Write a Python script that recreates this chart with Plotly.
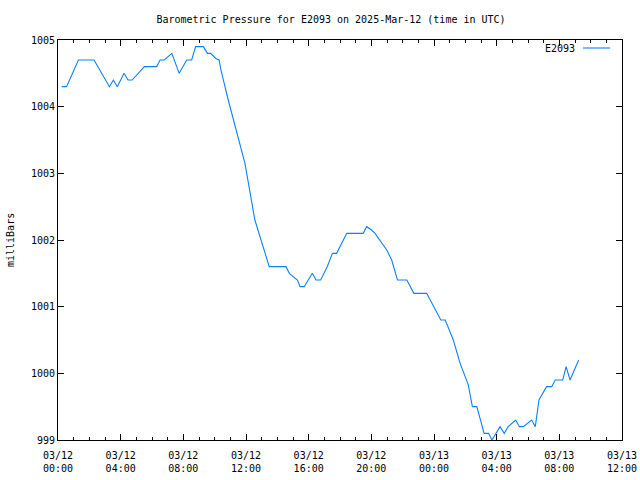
import plotly.graph_objects as go

times = [
    "2025-03-12 00:14", "2025-03-12 00:33", "2025-03-12 01:18", "2025-03-12 02:18",
    "2025-03-12 03:17", "2025-03-12 03:32", "2025-03-12 03:47", "2025-03-12 04:13",
    "2025-03-12 04:28", "2025-03-12 04:44", "2025-03-12 05:31", "2025-03-12 06:18",
    "2025-03-12 06:31", "2025-03-12 06:47", "2025-03-12 07:16", "2025-03-12 07:44",
    "2025-03-12 08:13", "2025-03-12 08:32", "2025-03-12 08:47", "2025-03-12 09:17",
    "2025-03-12 09:32", "2025-03-12 09:44", "2025-03-12 10:06", "2025-03-12 10:17",
    "2025-03-12 10:24", "2025-03-12 10:52", "2025-03-12 11:56", "2025-03-12 12:22",
    "2025-03-12 12:34", "2025-03-12 13:29", "2025-03-12 14:33", "2025-03-12 14:46",
    "2025-03-12 15:17", "2025-03-12 15:27", "2025-03-12 15:43", "2025-03-12 16:14",
    "2025-03-12 16:28", "2025-03-12 16:46", "2025-03-12 17:11", "2025-03-12 17:31",
    "2025-03-12 17:47", "2025-03-12 18:26", "2025-03-12 19:29", "2025-03-12 19:42",
    "2025-03-12 20:01", "2025-03-12 20:14", "2025-03-12 20:59", "2025-03-12 21:18",
    "2025-03-12 21:40", "2025-03-12 22:16", "2025-03-12 22:43", "2025-03-12 23:32",
    "2025-03-12 23:58", "2025-03-13 00:26", "2025-03-13 00:43", "2025-03-13 01:14",
    "2025-03-13 01:40", "2025-03-13 02:11", "2025-03-13 02:27", "2025-03-13 02:44",
    "2025-03-13 03:12", "2025-03-13 03:29", "2025-03-13 03:42", "2025-03-13 04:13",
    "2025-03-13 04:29", "2025-03-13 04:44", "2025-03-13 05:13", "2025-03-13 05:27",
    "2025-03-13 05:42", "2025-03-13 05:58", "2025-03-13 06:14", "2025-03-13 06:28",
    "2025-03-13 06:42", "2025-03-13 07:11", "2025-03-13 07:31", "2025-03-13 07:44",
    "2025-03-13 08:13", "2025-03-13 08:26", "2025-03-13 08:41", "2025-03-13 09:14",
]
pressure = [
    1004.3, 1004.3, 1004.7, 1004.7,
    1004.3, 1004.4, 1004.3, 1004.5,
    1004.4, 1004.4, 1004.6, 1004.6,
    1004.7, 1004.7, 1004.8, 1004.5,
    1004.7, 1004.7, 1004.9, 1004.9,
    1004.8, 1004.8, 1004.72, 1004.7,
    1004.55, 1004.1, 1003.15, 1002.6,
    1002.3, 1001.6, 1001.6, 1001.5,
    1001.4, 1001.3, 1001.3, 1001.5,
    1001.4, 1001.4, 1001.6, 1001.8,
    1001.8, 1002.1, 1002.1, 1002.2,
    1002.15, 1002.1, 1001.85, 1001.7,
    1001.4, 1001.4, 1001.2, 1001.2,
    1001.0, 1000.8, 1000.8, 1000.5,
    1000.15, 999.83, 999.5, 999.5,
    999.1, 999.1, 999.0, 999.2,
    999.1, 999.2, 999.3, 999.2,
    999.2, 999.25, 999.3, 999.2,
    999.6, 999.8, 999.8, 999.9,
    999.9, 1000.1, 999.9, 1000.2,
]
series_name = "E2093"
x_range = ["2025-03-12 00:00", "2025-03-13 12:00"]
y_range = [999, 1005]
title_text = "Barometric Pressure for E2093 on 2025-Mar-12 (time in UTC)"
y_title = "milliBars"

FONT = "DejaVu Sans Mono"
LINE_COLOR = "#0a82ff"

fig = go.Figure()
fig.add_trace(go.Scatter(
    x=times, y=pressure, mode="lines", name=series_name,
    line=dict(color=LINE_COLOR, width=1.1), showlegend=False,
))

fig.update_layout(
    width=640, height=480,
    margin=dict(l=58, r=18, t=40, b=40, autoexpand=False),
    paper_bgcolor="white", plot_bgcolor="white",
    font=dict(family=FONT, size=10, color="black"),
    title=dict(text=title_text, x=331 / 640, xanchor="center", xref="container",
               y=1 - 19 / 480, yanchor="middle", yref="container",
               font=dict(family=FONT, size=10, color="black")),
)

fig.update_xaxes(
    type="date", range=x_range, tick0="2025-03-12 00:00", dtick=4 * 3600 * 1000,
    tickformat="%m/%d<br>%H:%M", showgrid=False, zeroline=False, automargin=False,
    showline=True, linecolor="black", linewidth=1, mirror="allticks",
    ticks="inside", ticklen=6, tickcolor="black", tickwidth=1,
    ticklabelstandoff=6,
    minor=dict(dtick=3600 * 1000, ticks="inside", ticklen=3, tickcolor="black", showgrid=False),
    tickfont=dict(family=FONT, size=10, color="black"),
)
fig.update_yaxes(
    range=y_range, dtick=1, showgrid=False, zeroline=False, automargin=False,
    showline=True, linecolor="black", linewidth=1, mirror="allticks",
    ticks="inside", ticklen=6, tickcolor="black", tickwidth=1,
    tickfont=dict(family=FONT, size=10, color="black"),
)

fig.add_annotation(
    text=y_title, textangle=-90, xref="paper", yref="paper",
    x=-48 / 564, y=0.5, xanchor="center", yanchor="middle", showarrow=False,
    font=dict(family=FONT, size=10, color="black"),
)
# legend entry (text then line sample, like the original)
fig.add_annotation(
    text=series_name, xref="paper", yref="paper",
    x=(577 - 58) / 564, y=1 - 8 / 400, xanchor="right", yanchor="middle",
    showarrow=False, font=dict(family=FONT, size=10, color="black"),
)
fig.add_shape(
    type="line", xref="paper", yref="paper",
    x0=(583 - 58) / 564, x1=(610 - 58) / 564, y0=1 - 8 / 400, y1=1 - 8 / 400,
    line=dict(color=LINE_COLOR, width=1.1),
)

fig.write_html("out.html")
